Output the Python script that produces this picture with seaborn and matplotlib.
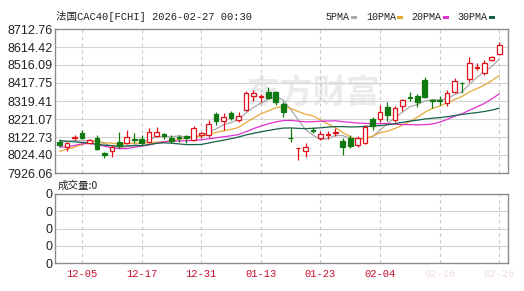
import numpy as np
import pandas as pd
import matplotlib
matplotlib.use("Agg")
import matplotlib.pyplot as plt
from matplotlib.patches import Rectangle
import seaborn as sns

# ---------------- data ----------------
dates = ["12-02", "12-03", "12-04", "12-05", "12-08", "12-09", "12-10", "12-11", "12-12", "12-15",
         "12-16", "12-17", "12-18", "12-19", "12-22", "12-23", "12-24", "12-29", "12-30", "12-31",
         "01-02", "01-05", "01-06", "01-07", "01-08", "01-09", "01-12", "01-13", "01-14", "01-15",
         "01-16", "01-19", "01-20", "01-21", "01-22", "01-23", "01-26", "01-27", "01-28", "01-29",
         "01-30", "02-02", "02-03", "02-04", "02-05", "02-06", "02-09", "02-10", "02-11", "02-12",
         "02-13", "02-16", "02-17", "02-18", "02-19", "02-20", "02-23", "02-24", "02-25", "02-26"]

opens = [8095, 8070, 8115, 8144, 8090, 8117, 8035, 8046, 8095, 8090,
         8112, 8112, 8095, 8128, 8139, 8117, 8123, 8128, 8106, 8134,
         8134, 8248, 8210, 8254, 8215, 8270, 8347, 8341, 8369, 8369,
         8303, 8120, 8060, 8046, 8163, 8117, 8134, 8144, 8101, 8117,
         8079, 8090, 8221, 8221, 8287, 8215, 8292, 8341, 8347, 8434,
         8325, 8325, 8308, 8369, 8420, 8440, 8500, 8472, 8543, 8576]
closes = [8079, 8092, 8125, 8117, 8106, 8057, 8024, 8068, 8074, 8123,
          8106, 8090, 8150, 8150, 8128, 8101, 8117, 8117, 8172, 8144,
          8194, 8210, 8232, 8227, 8237, 8363, 8363, 8347, 8336, 8314,
          8259, 8115, 8063, 8068, 8158, 8139, 8139, 8150, 8068, 8074,
          8117, 8177, 8183, 8259, 8243, 8281, 8325, 8336, 8314, 8341,
          8319, 8319, 8363, 8429, 8416, 8527, 8505, 8527, 8560, 8625]
highs = [8112, 8098, 8134, 8161, 8112, 8134, 8041, 8079, 8150, 8161,
         8144, 8134, 8172, 8177, 8144, 8134, 8134, 8134, 8183, 8150,
         8215, 8259, 8254, 8265, 8259, 8374, 8380, 8358, 8396, 8374,
         8314, 8172, 8065, 8090, 8177, 8155, 8155, 8172, 8117, 8134,
         8128, 8188, 8232, 8297, 8314, 8292, 8330, 8369, 8358, 8450,
         8330, 8347, 8380, 8445, 8423, 8560, 8527, 8543, 8565, 8642]
lows = [8068, 8046, 8106, 8112, 8084, 8052, 8008, 8013, 8063, 8084,
        8090, 8079, 8090, 8123, 8112, 8090, 8095, 8090, 8101, 8117,
        8123, 8188, 8161, 8215, 8205, 8265, 8319, 8314, 8330, 8297,
        8232, 8095, 7997, 8013, 8144, 8106, 8112, 8128, 8024, 8063,
        8068, 8084, 8160, 8205, 8210, 8205, 8265, 8319, 8287, 8336,
        8281, 8297, 8292, 8363, 8363, 8423, 8489, 8461, 8538, 8571]
# closes of the 29 sessions before the window (only used for the moving averages)
history_closes = [8207, 8225, 8225, 8215, 8217, 8200, 8157, 8121, 8110, 8068,
                  8075, 7965, 7950, 8055, 8156, 8241, 8232, 8170, 8120, 7955,
                  7967, 8015, 7982, 7960, 8025, 8096, 8099, 8122, 8097]

ma_periods = [5, 10, 20, 30]
ma_names = ["5PMA", "10PMA", "20PMA", "30PMA"]
ma_colors = ["#a8a8a8", "#e8a838", "#e030d0", "#17604a"]

y_tick_labels = ["8712.76", "8614.42", "8516.09", "8417.75", "8319.41",
                 "8221.07", "8122.73", "8024.40", "7926.06"]
x_tick_labels = ["12-05", "12-17", "12-31", "01-13", "01-23", "02-04", "02-16", "02-26"]
vol_tick_labels = ["0", "0", "0", "0", "0"]
title_text = "法国CAC40[FCHI] 2026-02-27 00:30"
volume_text = "成交量:0"

# ---------------- figure ----------------
sns.set_theme(style="white")
plt.rcParams["font.family"] = ["Liberation Sans", "Noto Sans CJK SC", "DejaVu Sans"]

W, H = 524, 291
fig = plt.figure(figsize=(W / 100, H / 100), dpi=100)
fig.patch.set_facecolor("white")
ax = fig.add_axes([55 / W, 1 - 173 / H, 453 / W, 144 / H])
axv = fig.add_axes([55 / W, 1 - 263 / H, 453 / W, 69 / H])

n = len(closes)
x = np.arange(n)
all_closes = pd.Series(history_closes + closes, dtype=float)
ma_df = pd.DataFrame({"x": x})
for p, name in zip(ma_periods, ma_names):
    ma_df[name] = all_closes.rolling(p).mean().iloc[len(history_closes):].to_numpy()

y_vals = [float(v) for v in y_tick_labels]
ymin, ymax = min(y_vals), max(y_vals)
xlim = ((55 - 59.7) / 7.45, (508 - 59.7) / 7.45)

tick_pos = [dates.index(d) for d in x_tick_labels]

for a in (ax, axv):
    a.set_facecolor("white")
    for s in a.spines.values():
        s.set_color("#8c8c8c")
        s.set_linewidth(1.0)
    a.set_xlim(*xlim)
    a.tick_params(length=0, pad=1.5, labelsize=9, colors="#222222")
    for tp in tick_pos:
        a.axvline(tp, color="#c8c8c8", lw=0.8, ls=(0, (3, 3)), zorder=0.5)

# horizontal grid lines
ax.set_ylim(ymin, ymax)
for v in y_vals[1:-1]:
    ax.axhline(v, color="#d4d4d4", lw=0.8, zorder=0.4)
ax.set_yticks(y_vals)
ax.set_yticklabels(y_tick_labels)
ax.set_xticks([])

# watermark
ax.text(0.57, 0.55, "东方财富", transform=ax.transAxes, fontsize=24, fontweight="bold",
        color="#ebebeb", ha="center", va="center", style="italic",
        family=["Noto Sans CJK SC"], zorder=0.3)

# moving averages
for name, c in zip(ma_names, ma_colors):
    sns.lineplot(data=ma_df, x="x", y=name, ax=ax, color=c, lw=0.9, zorder=2, legend=False)
ax.set_xlabel("")
ax.set_ylabel("")

# candles
up_c, dn_c = "#e3101c", "#107a10"
o = np.array(opens); c_ = np.array(closes); h = np.array(highs); l = np.array(lows)
up = c_ >= o
cols = np.where(up, up_c, dn_c)
ax.vlines(x, l, h, colors=cols, lw=0.9, zorder=3)
body_h = np.abs(c_ - o)
body_h = np.maximum(body_h, 1.5)
bottoms = np.minimum(o, c_)
ax.bar(x[up], body_h[up], bottom=bottoms[up], width=0.62, facecolor="white",
       edgecolor=up_c, linewidth=0.9, zorder=4)
ax.bar(x[~up], body_h[~up], bottom=bottoms[~up], width=0.62, facecolor=dn_c,
       edgecolor=dn_c, linewidth=0.9, zorder=4)
ax.set_xlim(*xlim)
ax.set_ylim(ymin, ymax)

# volume panel
vol_vals = np.arange(len(vol_tick_labels))[::-1].astype(float)
axv.set_ylim(0, len(vol_tick_labels) - 1)
for v in vol_vals[1:-1]:
    axv.axhline(v, color="#d4d4d4", lw=0.8, zorder=0.4)
axv.set_yticks(vol_vals)
axv.set_yticklabels(vol_tick_labels)
axv.set_xticks(tick_pos)
axv.set_xticklabels(x_tick_labels, family=["Liberation Mono"], fontsize=7.6, color="#c8102e")
axv.tick_params(axis="x", pad=4)
for lab in axv.get_xticklabels()[-2:]:
    lab.set_color("#f3dde2")

# title & legend
mono = ["Liberation Mono", "Noto Sans CJK SC"]
fig.text(56 / W, 1 - 17 / H, title_text, family=mono, fontsize=7.6, va="center", ha="left",
         color="#222222")
fig.text(58 / W, 1 - 186 / H, volume_text, family=["Noto Sans CJK SC", "Liberation Mono"],
         fontsize=7.6, va="center", ha="left", color="#222222")
leg_x = [325, 366, 411, 457]
for lx, name, col in zip(leg_x, ma_names, ma_colors):
    t = fig.text(lx / W, 1 - 17 / H, name, family=mono, fontsize=7.2, va="center",
                 ha="left", color="#222222")
    w = 5.9 * len(name)
    fig.patches.append(Rectangle(((lx + w + 2) / W, 1 - 18.5 / H), 6 / W, 3 / H,
                                 transform=fig.transFigure, facecolor=col, edgecolor="none"))

fig.savefig("out.png", dpi=100, facecolor="white")
